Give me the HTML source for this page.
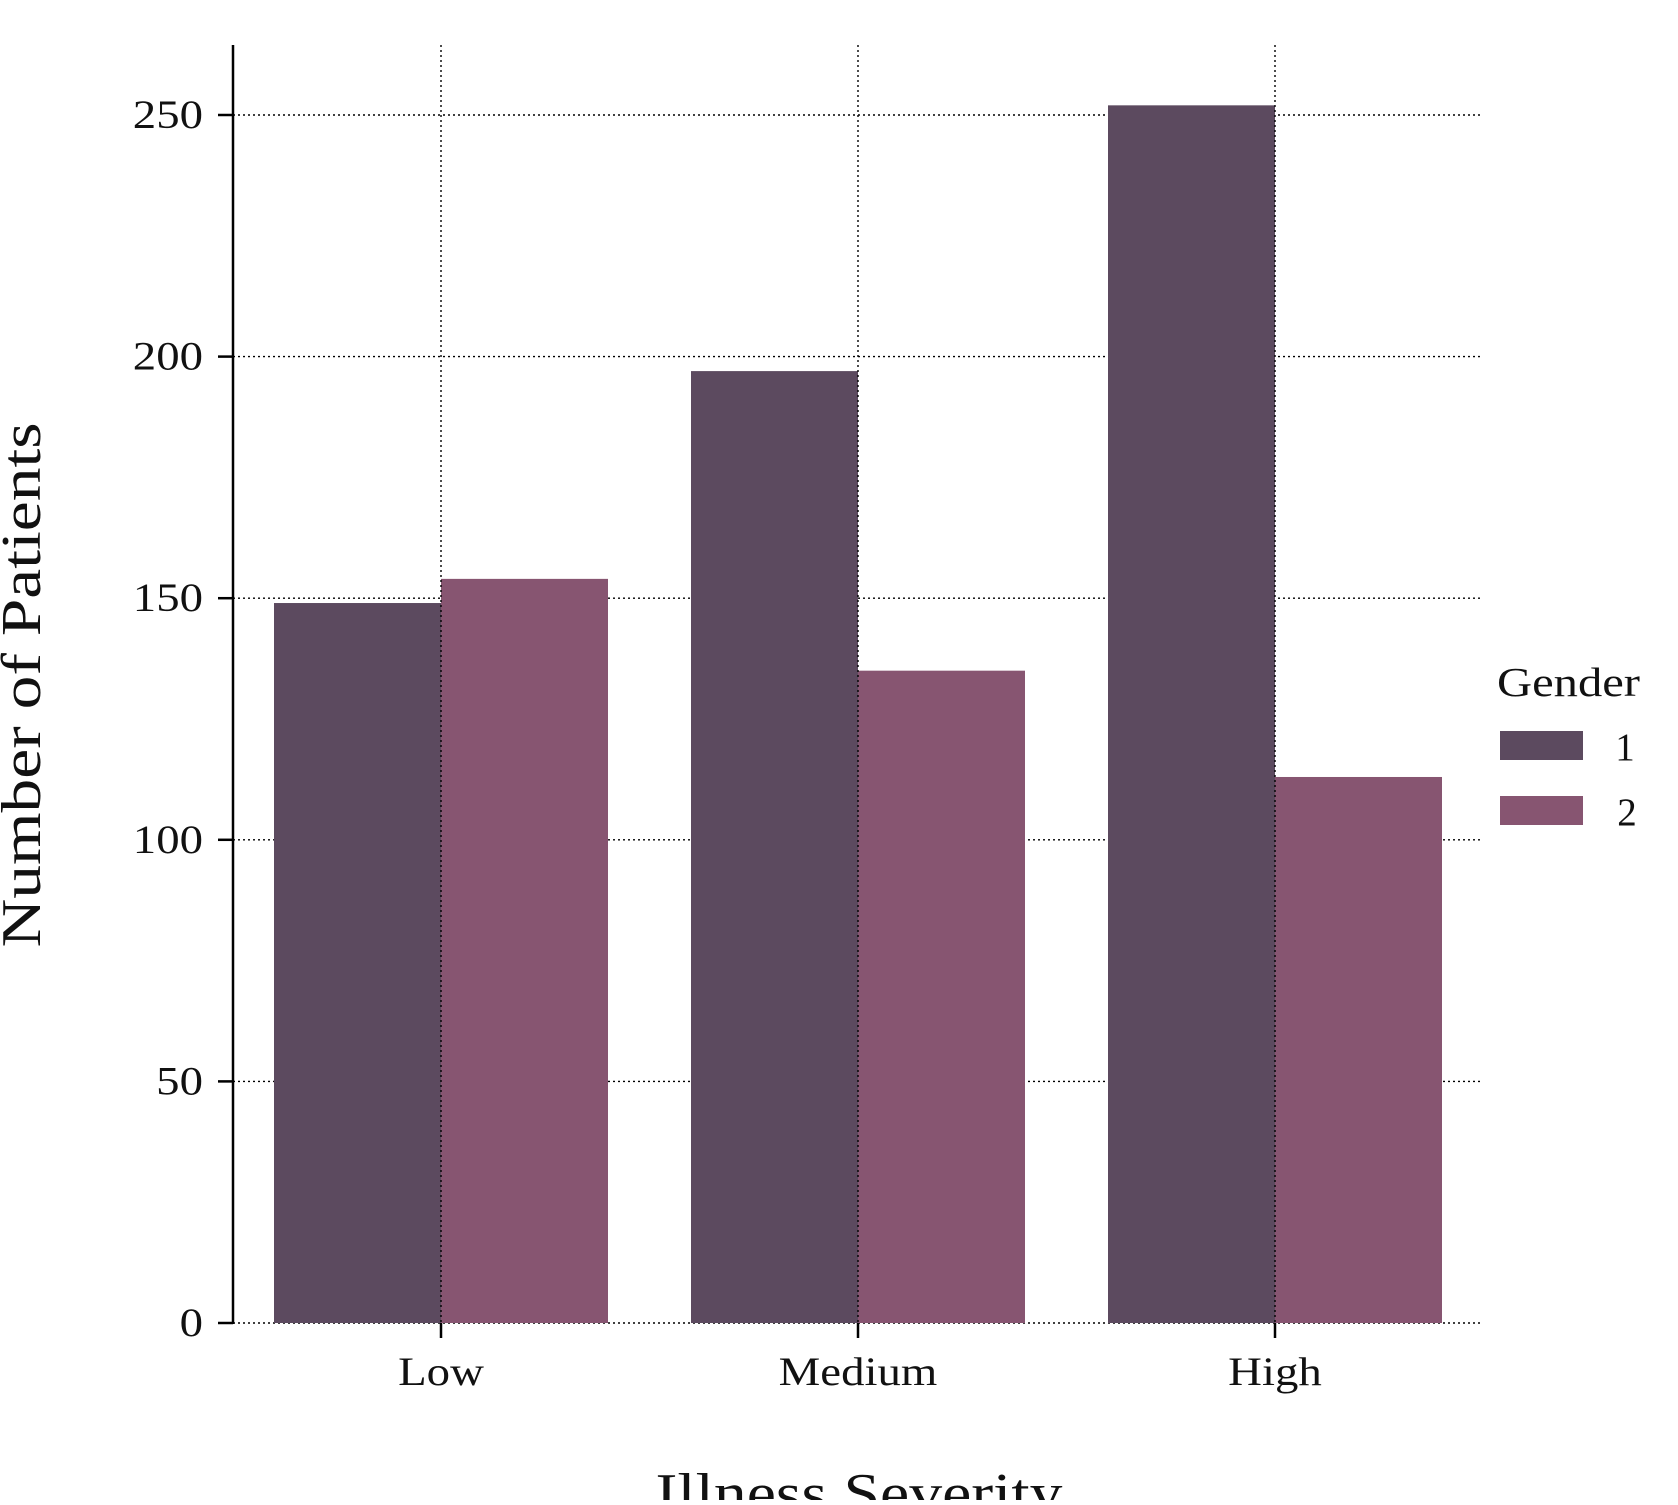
<!DOCTYPE html>
<html><head><meta charset="utf-8"><style>
body{margin:0;background:#fff}
text{font-family:"Liberation Serif",serif;fill:#111}
</style></head><body>
<svg id="chart" width="1678" height="1500" viewBox="0 0 1678 1500" xmlns="http://www.w3.org/2000/svg">
<g id="grid"></g>
<g id="bars"></g>
<g id="vgrid"></g>
<g id="axes"></g>
<g>
<text x="1497" y="696" font-size="41" textLength="143" lengthAdjust="spacingAndGlyphs">Gender</text>
<rect x="1500" y="731" width="83" height="29" fill="#5c4a5f"/>
<text x="1625" y="760" font-size="39" text-anchor="middle">1</text>
<rect x="1500" y="796" width="83" height="29" fill="#875571"/>
<text x="1627" y="825" font-size="39" text-anchor="middle">2</text>
</g>
<text x="859" y="1512" font-size="56" text-anchor="middle" textLength="407" lengthAdjust="spacingAndGlyphs">Illness Severity</text>
<text transform="translate(40,685) rotate(-90)" font-size="56" text-anchor="middle" textLength="525" lengthAdjust="spacingAndGlyphs">Number of Patients</text>
</svg>
<script>
const categories=["Low","Medium","High"];
const series1=[149,197,252];
const series2=[154,135,113];
const yTicks=[0,50,100,150,200,250];
const NS="http://www.w3.org/2000/svg";
const plotLeft=233,plotRight=1483,baseY=1323,pxPer=(1323-115)/250,plotTop=45;
const step=417,firstX=441,bw=167;
const yS=v=>baseY-v*pxPer;
const xS=i=>firstX+i*step;
function mk(tag,attrs,parent){const e=document.createElementNS(NS,tag);for(const k in attrs)e.setAttribute(k,attrs[k]);document.getElementById(parent).appendChild(e);return e;}
function widen(el,f){const w=el.getComputedTextLength();el.setAttribute('textLength',(w*f).toFixed(1));el.setAttribute('lengthAdjust','spacingAndGlyphs');}
yTicks.forEach(t=>{
 const g=mk('line',{x1:plotLeft,x2:plotRight,y1:yS(t),y2:yS(t),stroke:'#000','stroke-width':1.4,'stroke-dasharray':'2,3'},'grid');
 
 
 const tk=mk('line',{x1:plotLeft-15,x2:plotLeft,y1:yS(t),y2:yS(t),stroke:'#000','stroke-width':2.5},'axes');
 
 
 const lb=mk('text',{x:plotLeft-30,y:yS(t)+13,'font-size':40,'text-anchor':'end'},'axes');
 lb.textContent=t;
 
 
 widen(lb,1.17);
});
categories.forEach((c,i)=>{
 const cx=xS(i);
 const b1=mk('rect',{x:cx-bw,y:yS(series1[i]),width:bw,height:baseY-yS(series1[i]),fill:'#5c4a5f'},'bars');
 
 
 const b2=mk('rect',{x:cx,y:yS(series2[i]),width:bw,height:baseY-yS(series2[i]),fill:'#875571'},'bars');
 
 
 const vg=mk('line',{x1:cx,x2:cx,y1:plotTop,y2:baseY,stroke:'#000','stroke-width':1.4,'stroke-dasharray':'2,3'},'vgrid');
 
 
 const tk=mk('line',{x1:cx,x2:cx,y1:baseY,y2:baseY+15,stroke:'#000','stroke-width':2.5},'axes');
 
 
 const lb=mk('text',{x:cx,y:1385,'font-size':40,'text-anchor':'middle'},'axes');
 lb.textContent=c;
 
 
 widen(lb,1.17);
});
const sp=mk('line',{x1:plotLeft,x2:plotLeft,y1:plotTop,y2:baseY+1,stroke:'#000','stroke-width':2.5},'axes');


</script>
</body></html>
